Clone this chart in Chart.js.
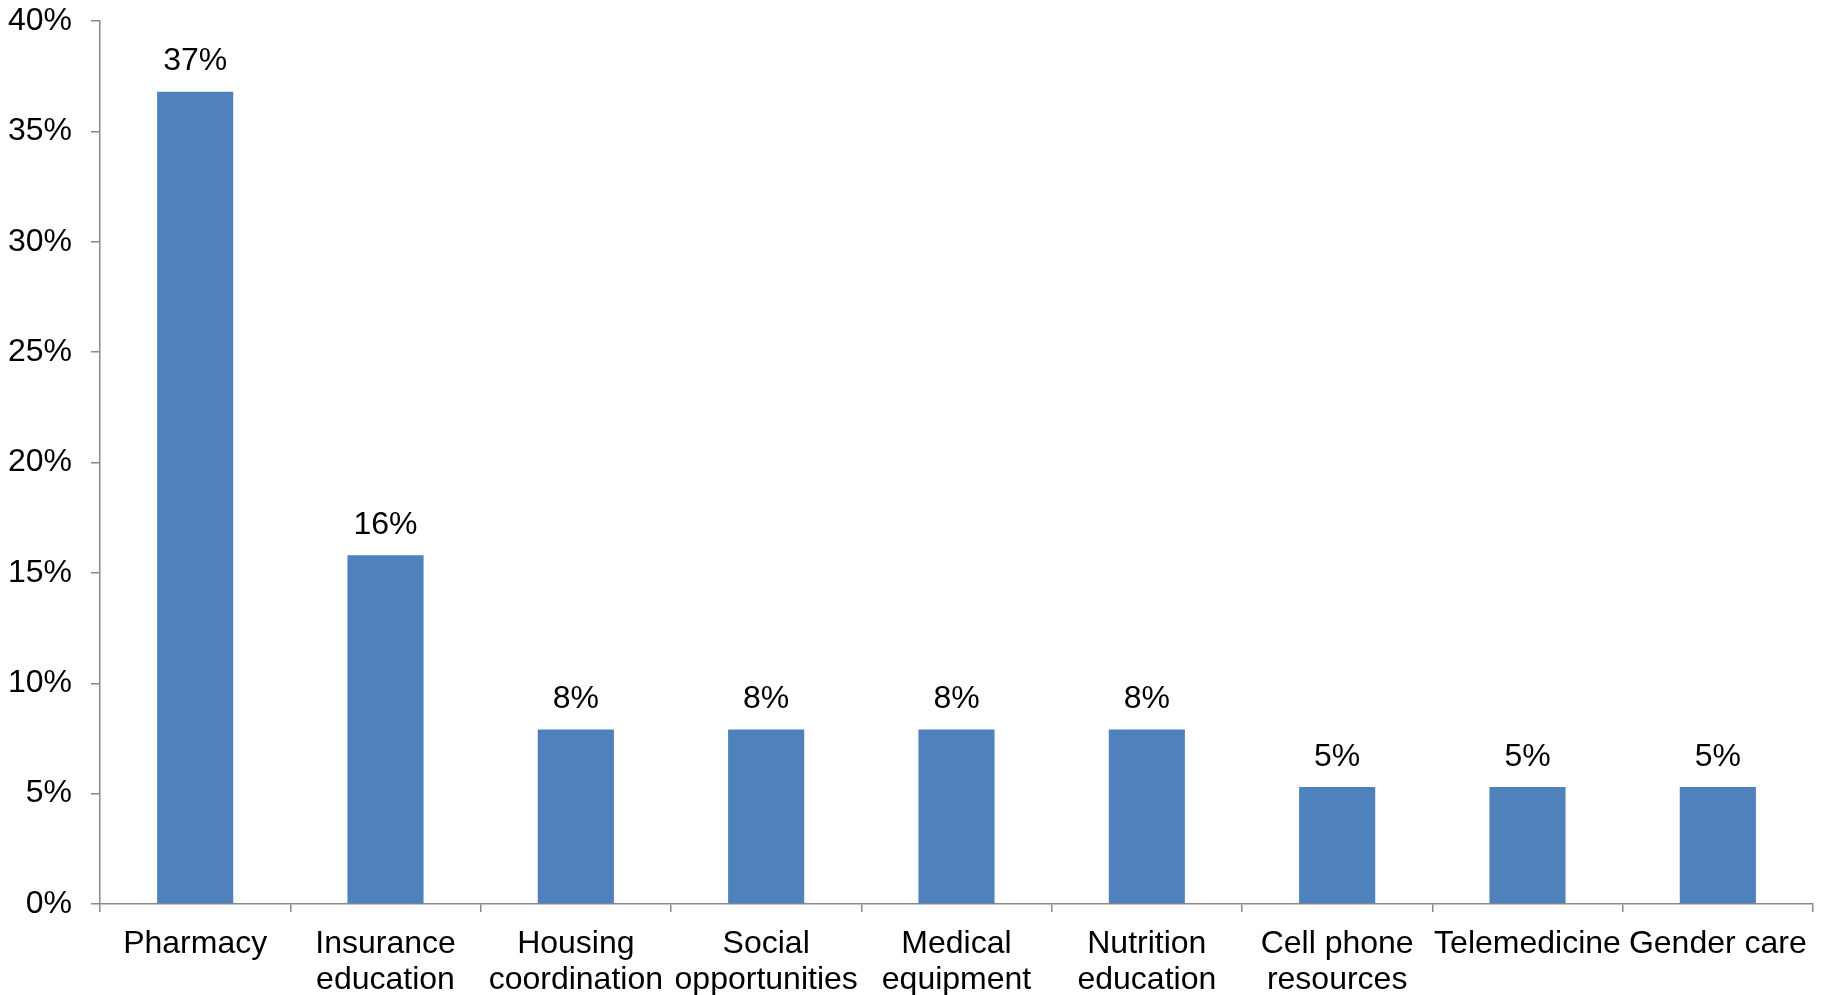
<!DOCTYPE html>
<html lang="en">
<head>
    <meta charset="UTF-8">
    <title>Resources</title>
    <script src="https://cdn.jsdelivr.net/npm/chart.js"></script>
    <style>
        html, body { margin: 0; padding: 0; background: #ffffff; }
        canvas { display: block; }
    </style>
</head>
<body>
    <canvas id="grafico" width="1831" height="995"></canvas>

    <script>
        // Categories (multi-line labels as arrays)
        var categorias = [
            "Pharmacy",
            ["Insurance", "education"],
            ["Housing", "coordination"],
            ["Social", "opportunities"],
            ["Medical", "equipment"],
            ["Nutrition", "education"],
            ["Cell phone", "resources"],
            "Telemedicine",
            "Gender care"
        ];
        // Percent of respondents
        var valores = [36.8, 15.8, 7.9, 7.9, 7.9, 7.9, 5.3, 5.3, 5.3];
        var ticksY = [0, 5, 10, 15, 20, 25, 30, 35, 40];

        var fonte = "'Liberation Sans', Arial, sans-serif";
        var corEixo = "#898989";

        // Value labels above each bar
        var rotulos = {
            id: "rotulos",
            afterDatasetsDraw: function (chart) {
                var ctx = chart.ctx;
                var meta = chart.getDatasetMeta(0);
                ctx.save();
                ctx.font = "32px " + fonte;
                ctx.fillStyle = "#000000";
                ctx.textAlign = "center";
                ctx.textBaseline = "bottom";
                meta.data.forEach(function (barra, i) {
                    ctx.fillText(Math.round(valores[i]) + "%", barra.x, barra.y - 14);
                });
                ctx.restore();
            }
        };

        var ctx = document.getElementById("grafico").getContext("2d");
        var grafico = new Chart(ctx, {
            type: "bar",
            data: {
                labels: categorias,
                datasets: [{
                    data: valores,
                    backgroundColor: "#4F81BD",
                    borderWidth: 0,
                    barPercentage: 0.4,
                    categoryPercentage: 1
                }]
            },
            options: {
                responsive: false,
                animation: false,
                layout: { padding: { left: 0, right: 18, top: 21, bottom: 0 } },
                plugins: {
                    legend: { display: false },
                    tooltip: { enabled: false }
                },
                scales: {
                    x: {
                        grid: {
                            display: true,
                            drawOnChartArea: false,
                            drawTicks: true,
                            tickLength: 8,
                            color: corEixo,
                            lineWidth: 1.5
                        },
                        border: { color: corEixo, width: 1.5 },
                        ticks: {
                            color: "#000000",
                            font: { family: fonte, size: 32, lineHeight: 1.1 },
                            padding: 15,
                            maxRotation: 0,
                            autoSkip: false
                        },
                        afterFit: function (escala) { escala.height = 91; }
                    },
                    y: {
                        min: 0,
                        max: 40,
                        afterBuildTicks: function (escala) {
                            escala.ticks = ticksY.map(function (v) { return { value: v }; });
                        },
                        grid: {
                            display: true,
                            drawOnChartArea: false,
                            drawTicks: true,
                            tickLength: 9,
                            color: corEixo,
                            lineWidth: 1.5
                        },
                        border: { color: corEixo, width: 1.5 },
                        ticks: {
                            color: "#000000",
                            font: { family: fonte, size: 32 },
                            padding: 19,
                            callback: function (v) { return v + "%"; }
                        },
                        afterFit: function (escala) {
                            escala.width = 100;
                            escala.paddingTop = 0;
                            escala.paddingBottom = 0;
                        }
                    }
                }
            },
            plugins: [rotulos]
        });
    </script>
</body>
</html>
